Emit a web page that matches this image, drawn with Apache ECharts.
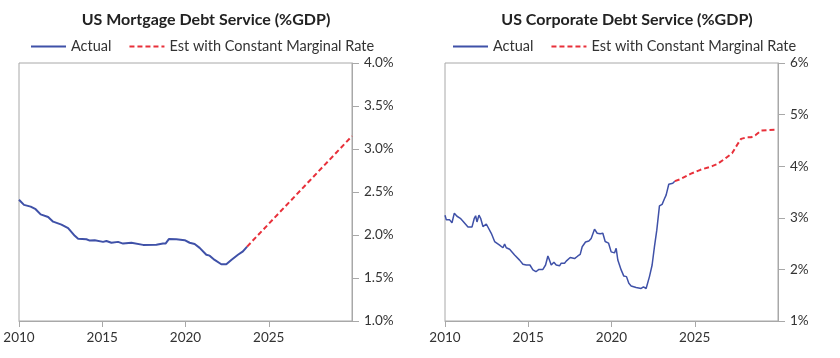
<!DOCTYPE html>
<html>
<head>
<meta charset="utf-8">
<script src="https://cdn.jsdelivr.net/npm/echarts@6/dist/echarts.min.js"></script>
<style>
html,body{margin:0;padding:0;background:#fff;}
#c{width:840px;height:358px;}
</style>
</head>
<body>
<div id="c"></div>
<script>
const titles = ['US Mortgage Debt Service (%GDP)', 'US Corporate Debt Service (%GDP)'];
const legendNames = ['Actual', 'Est with Constant Marginal Rate'];

const mortYears = [2010.0,2010.3,2010.7,2011.0,2011.3,2011.75,2012.05,2012.55,2012.95,2013.35,2013.55,2014.05,2014.25,2014.55,2015.05,2015.25,2015.55,2015.95,2016.25,2016.75,2017.45,2018.25,2018.65,2018.8,2019.0,2019.45,2019.95,2020.25,2020.55,2020.85,2021.25,2021.45,2021.75,2022.15,2022.45,2022.75,2023.15,2023.45,2023.7];
const mortActual = [2.41,2.35,2.33,2.30,2.24,2.21,2.155,2.12,2.08,1.99,1.957,1.95,1.935,1.94,1.92,1.93,1.91,1.92,1.90,1.91,1.885,1.887,1.90,1.90,1.953,1.95,1.94,1.91,1.895,1.85,1.77,1.76,1.71,1.66,1.66,1.71,1.77,1.81,1.865];
const mortEstYears = [2023.7,2025,2027.5,2030];
const mortEst = [1.865,2.13,2.64,3.15];

const corpYears = [2010.0,2010.08,2010.28,2010.42,2010.56,2010.72,2010.92,2011.12,2011.38,2011.62,2011.76,2011.84,2011.92,2012.04,2012.14,2012.28,2012.38,2012.48,2012.58,2012.78,2012.98,2013.28,2013.48,2013.58,2013.68,2013.88,2014.18,2014.48,2014.68,2014.88,2015.1,2015.28,2015.46,2015.64,2015.88,2016.04,2016.18,2016.24,2016.38,2016.54,2016.68,2016.88,2016.98,2017.18,2017.28,2017.52,2017.78,2017.98,2018.12,2018.24,2018.44,2018.64,2018.78,2018.98,2019.14,2019.32,2019.48,2019.62,2019.82,2019.98,2020.18,2020.28,2020.38,2020.58,2020.74,2020.9,2021.04,2021.18,2021.48,2021.78,2021.92,2022.08,2022.28,2022.44,2022.58,2022.72,2022.88,2023.04,2023.18,2023.28,2023.44,2023.54,2023.68,2023.8];
const corpActual = [3.05,2.96,2.96,2.905,3.09,3.03,2.99,2.92,2.82,2.82,2.99,3.04,2.92,3.05,2.99,2.83,2.81,2.88,2.86,2.70,2.54,2.47,2.42,2.49,2.42,2.39,2.28,2.18,2.10,2.085,2.085,1.99,1.955,2.0,2.0,2.085,2.26,2.21,2.085,2.14,2.085,2.07,2.12,2.12,2.16,2.23,2.21,2.26,2.29,2.44,2.53,2.55,2.60,2.78,2.70,2.69,2.70,2.54,2.51,2.34,2.32,2.41,2.18,1.99,1.87,1.86,1.73,1.68,1.65,1.63,1.66,1.63,1.86,2.085,2.44,2.76,3.23,3.26,3.37,3.44,3.65,3.62,3.67,3.71];
const corpEstYears = [2023.8,2024.14,2024.74,2025.34,2026.04,2026.34,2026.84,2027.24,2027.54,2027.78,2028.14,2028.38,2028.64,2028.98,2029.38,2029.94];
const corpEst = [3.71,3.75,3.85,3.93,4.00,4.04,4.15,4.25,4.41,4.53,4.56,4.56,4.60,4.69,4.70,4.71];

const zip = (xs, ys) => xs.map((x, i) => [x, ys[i]]);

const BLUE = '#3f51a8';
const RED = '#e8303a';
const AXIS = '#a8a8a8';
const TXT = '#333';
const FONT = 'Lato, "Open Sans", sans-serif';

function xAxis(gi) {
  return {
    type: 'value', gridIndex: gi, min: 2010, max: 2030, interval: 5,
    axisLine: {show: true, lineStyle: {color: AXIS, width: 1}},
    axisTick: {show: true, length: 6, lineStyle: {color: AXIS}},
    splitLine: {show: false},
    axisLabel: {color: TXT, fontFamily: FONT, fontSize: 13.5, margin: 10, showMaxLabel: false,
      formatter: v => (v >= 2030 ? '' : String(v))}
  };
}
function yAxis(gi, min, max, interval, dec) {
  return {
    type: 'value', gridIndex: gi, position: 'right', min: min, max: max, interval: interval,
    axisLine: {show: true, lineStyle: {color: AXIS, width: 1}},
    axisTick: {show: true, length: 7, lineStyle: {color: AXIS}},
    splitLine: {show: false},
    axisLabel: {color: TXT, fontFamily: FONT, fontSize: 13.5, margin: 12,
      formatter: v => v.toFixed(dec) + '%'}
  };
}

function legend(left, names) {
  return {
    left: left, top: 34, itemWidth: 35, itemHeight: 14, itemGap: 17,
    itemStyle: {opacity: 0, borderWidth: 0},
    lineStyle: {width: 2},
    data: [{name: names[0]}, {name: names[1]}],
    formatter: n => (n === names[0] ? legendNames[0] : legendNames[1]),
    textStyle: {fontFamily: FONT, fontSize: 14.5, color: TXT}
  };
}

const chart = echarts.init(document.getElementById('c'), null, {renderer: 'canvas'});
chart.setOption({
  animation: false,
  backgroundColor: '#fff',
  title: [
    {text: titles[0], left: 201, top: 7, textAlign: 'center',
     textStyle: {fontFamily: FONT, fontWeight: 'bold', fontSize: 16, color: '#222'}},
    {text: titles[1], left: 622, top: 7, textAlign: 'center',
     textStyle: {fontFamily: FONT, fontWeight: 'bold', fontSize: 16, color: '#222'}}
  ],
  legend: [legend(25, ['m0', 'm1']), legend(447, ['c0', 'c1'])],
  grid: [
    {left: 19, right: 488, top: 63, bottom: 37, show: true, borderColor: AXIS, borderWidth: 1},
    {left: 445, right: 62, top: 63, bottom: 37, show: true, borderColor: AXIS, borderWidth: 1}
  ],
  xAxis: [xAxis(0), xAxis(1)],
  yAxis: [yAxis(0, 1, 4, 0.5, 1), yAxis(1, 1, 6, 1, 0)],
  series: [
    {name: 'm0', type: 'line', xAxisIndex: 0, yAxisIndex: 0, data: zip(mortYears, mortActual),
     showSymbol: false, symbol: 'none', color: BLUE, lineStyle: {color: BLUE, width: 2}},
    {name: 'm1', type: 'line', xAxisIndex: 0, yAxisIndex: 0, data: zip(mortEstYears, mortEst),
     showSymbol: false, symbol: 'none', color: RED, lineStyle: {color: RED, width: 2, type: [5, 3]}},
    {name: 'c0', type: 'line', xAxisIndex: 1, yAxisIndex: 1, data: zip(corpYears, corpActual),
     showSymbol: false, symbol: 'none', color: BLUE, lineStyle: {color: BLUE, width: 1.5}},
    {name: 'c1', type: 'line', xAxisIndex: 1, yAxisIndex: 1, data: zip(corpEstYears, corpEst),
     showSymbol: false, symbol: 'none', color: RED, lineStyle: {color: RED, width: 2, type: [5, 3]}}
  ]
});
</script>
</body>
</html>
